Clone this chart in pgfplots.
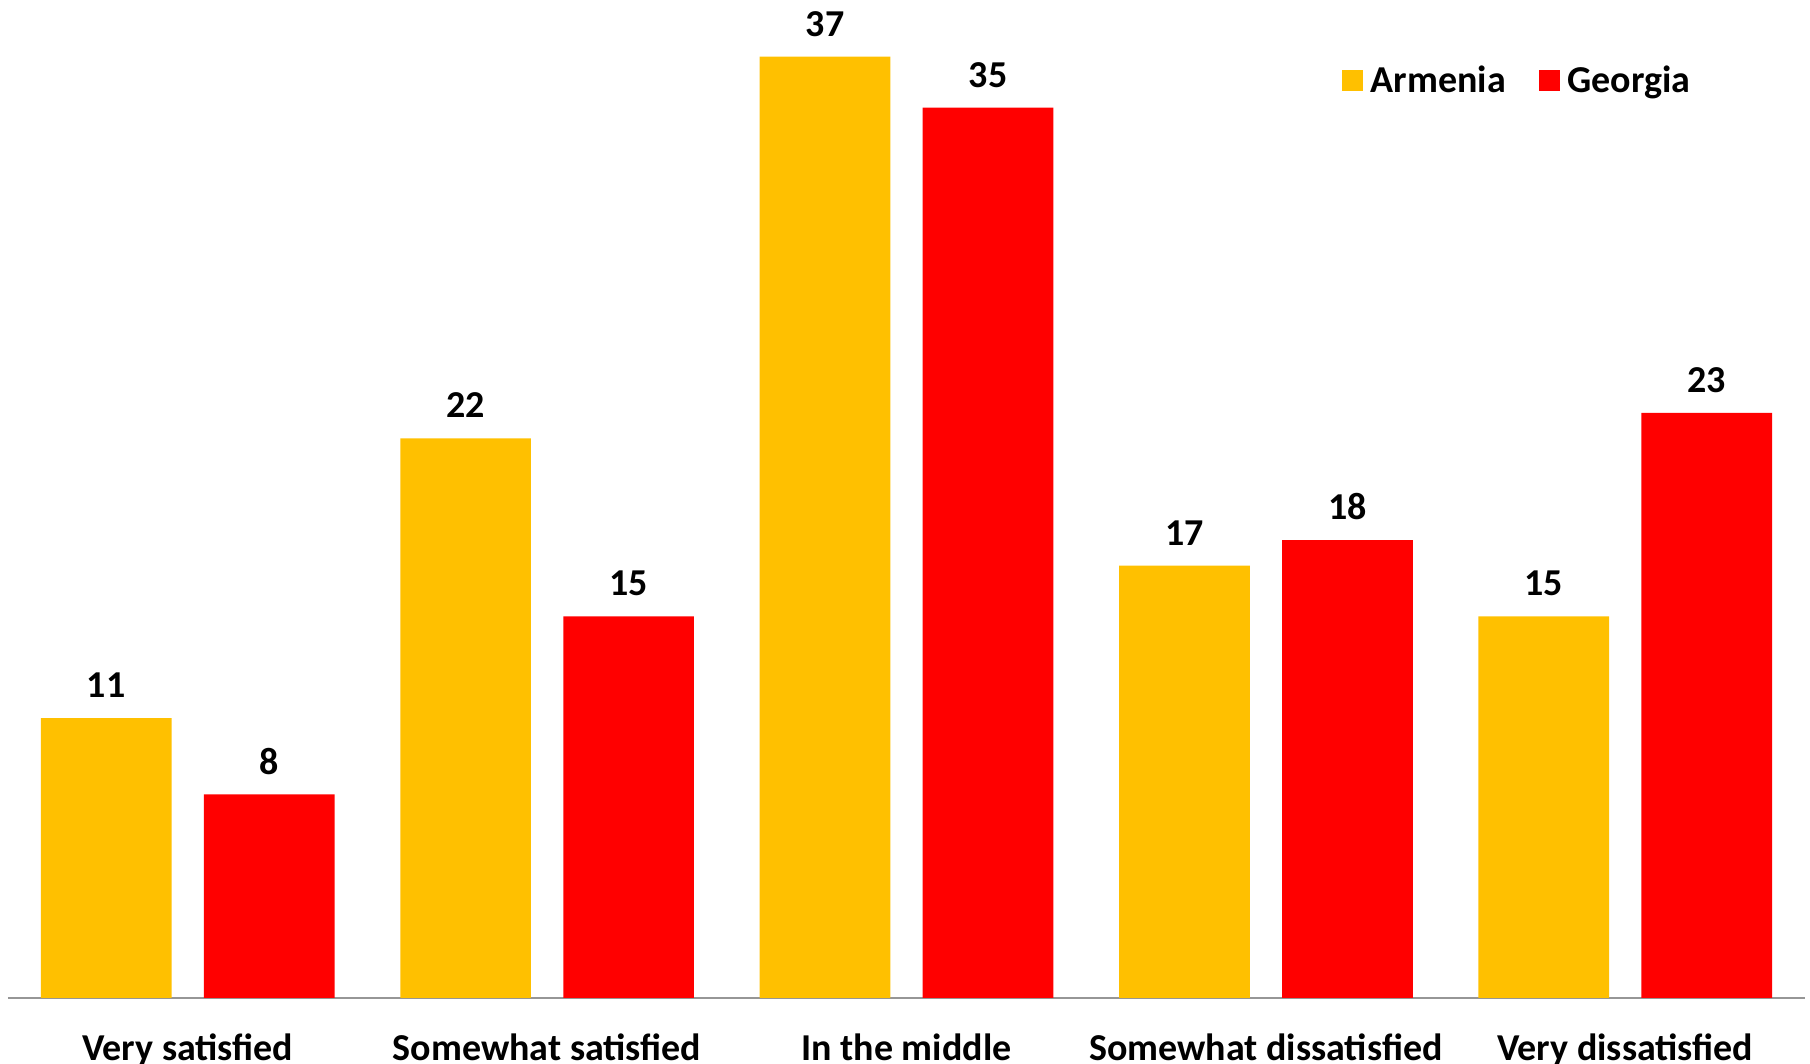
\documentclass[border=0pt]{standalone}
\usepackage{fontspec}
\setmainfont{Carlito}
\usepackage{pgfplots}
\pgfplotsset{compat=1.18}
\definecolor{armenia}{RGB}{255,192,0}
\definecolor{georgia}{RGB}{255,0,0}
\definecolor{axisgray}{RGB}{150,150,150}
\begin{document}
\begin{tikzpicture}
\useasboundingbox (0,0) rectangle (905pt,532pt);
\begin{axis}[
  at={(4pt,33pt)}, anchor=south west,
  scale only axis,
  width=898.5pt, height=496.08pt,
  xmin=-0.5, xmax=4.5, ymin=0, ymax=39,
  ybar=16.15pt, bar width=65.35pt,
  hide y axis,
  axis x line*=bottom,
  x axis line style={draw=axisgray, line width=1pt},
  xtick={0,1,2,3,4},
  xticklabels={Very satisfied, Somewhat satisfied, In the middle, Somewhat dissatisfied, Very dissatisfied},
  major tick length=0pt,
  xticklabel style={font=\fontsize{19}{22}\selectfont\bfseries, anchor=base, yshift=-31.2pt},
  clip=false,
  /pgf/number format/assume math mode=true,
  nodes near coords,
  nodes near coords style={font=\fontsize{19}{22}\selectfont\bfseries, text=black, anchor=base, yshift=10.2pt},
  legend columns=2,
  legend style={at={(0.7422,0.9249)}, anchor=west, draw=none, fill=none, inner sep=0pt,
    nodes={inner sep=0pt, font=\fontsize{19}{22}\selectfont\bfseries},
    /tikz/every even column/.append style={column sep=16.6pt}},
  legend image code/.code={\fill[#1,draw=none] (0pt,-5.25pt) rectangle (10.5pt,5.25pt); \path (14.3pt,0pt);},
]
\addplot[fill=armenia, draw=none] coordinates {(0,11) (1,22) (2,37) (3,17) (4,15)};
\addplot[fill=georgia, draw=none] coordinates {(0,8) (1,15) (2,35) (3,18) (4,23)};
\legend{Armenia, Georgia}
\end{axis}
\end{tikzpicture}
\end{document}
